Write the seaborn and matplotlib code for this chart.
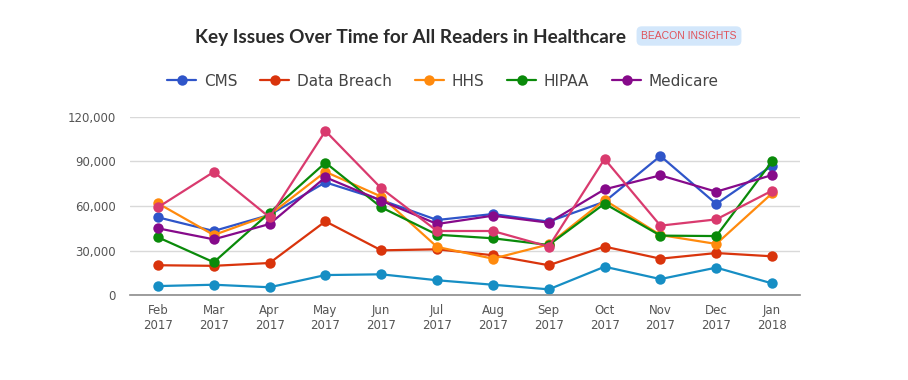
import matplotlib
matplotlib.use("Agg")
import matplotlib.pyplot as plt
import pandas as pd
import seaborn as sns

# data
months = ["Feb\n2017", "Mar\n2017", "Apr\n2017", "May\n2017", "Jun\n2017", "Jul\n2017",
          "Aug\n2017", "Sep\n2017", "Oct\n2017", "Nov\n2017", "Dec\n2017", "Jan\n2018"]

cms = [52400, 43200, 54000, 75900, 64000, 50600, 54600, 49500, 62900, 93600, 61400, 87100]
data_breach = [20200, 19800, 21700, 49700, 30200, 30900, 26900, 20200, 32700, 24600, 28400, 26200]
hhs = [61800, 40500, 54000, 83000, 66300, 32500, 24600, 34200, 64000, 40500, 34500, 68500]
hipaa = [39000, 22200, 55500, 89100, 59100, 40700, 38300, 33800, 61600, 40100, 39800, 90000]
medicare = [45000, 37600, 47900, 79300, 63600, 47900, 53500, 48800, 71200, 80600, 69600, 80800]
# two series not shown in the (truncated) legend
other_teal = [6200, 7100, 5400, 13600, 14100, 10100, 7100, 4000, 19200, 10900, 18600, 8000]
other_pink = [59100, 82900, 52400, 110400, 71900, 43200, 43200, 32700, 91600, 46800, 51000, 70300]

series_names = ["CMS", "Data Breach", "HHS", "HIPAA", "Medicare", "Other 1", "Other 2"]
series_values = [cms, data_breach, hhs, hipaa, medicare, other_teal, other_pink]
colors = ["#2f55c9", "#d9340c", "#ff8a0d", "#0a8a0a", "#860a8a", "#168ec4", "#d93a6e"]

rows = []
for name, vals in zip(series_names, series_values):
    for m, v in zip(months, vals):
        rows.append({"month": m, "value": v, "series": name})
df = pd.DataFrame(rows)

sns.set_style("white")
plt.rcParams["font.family"] = ["DejaVu Sans"]

fig = plt.figure(figsize=(9.08, 3.8), dpi=100)
ax = fig.add_axes([130 / 908, 1 - 295.3 / 380, 670 / 908, 178.6 / 380])

sns.lineplot(data=df, x="month", y="value", hue="series", hue_order=series_names,
             palette=colors, marker="o", markersize=7.5, markeredgewidth=0,
             linewidth=1.6, sort=False, ax=ax)

ax.set_xlim(-0.5, 11.5)
ax.set_ylim(0, 120000)
ax.set_yticks([0, 30000, 60000, 90000, 120000])
ax.set_yticklabels(["0", "30,000", "60,000", "90,000", "120,000"])
ax.yaxis.grid(True, color="#d9d9d9", linewidth=1)
ax.set_axisbelow(True)
for s in ["top", "right", "left"]:
    ax.spines[s].set_visible(False)
ax.spines["bottom"].set_color("#8c8c8c")
ax.spines["bottom"].set_linewidth(1.2)
ax.tick_params(axis="both", length=0, labelsize=8.5, labelcolor="#555555")
ax.tick_params(axis="y", pad=10)
ax.tick_params(axis="x", pad=6)
ax.set_xlabel("")
ax.set_ylabel("")

handles, labels = ax.get_legend_handles_labels()
ax.legend(handles[:5], labels[:5], ncol=5, loc="center", bbox_to_anchor=(443 / 908, 1 - 81 / 380),
          bbox_transform=fig.transFigure, frameon=False, fontsize=11, labelcolor="#444444",
          handlelength=1.9, handletextpad=0.5, columnspacing=1.5)

fig.text(195 / 908, 1 - 37 / 380, "Key Issues Over Time for All Readers in Healthcare",
         family="Lato", weight="bold", fontsize=13.7, color="#2b2b2b", ha="left", va="center")
fig.text(689 / 908, 1 - 36 / 380, "BEACON INSIGHTS", family="Liberation Sans",
         fontsize=7.5, color="#e0525a", ha="center", va="center",
         bbox=dict(boxstyle="round,pad=0.45,rounding_size=0.5", fc="#d3e7fb", ec="none"))

fig.savefig("out.png", dpi=100)
